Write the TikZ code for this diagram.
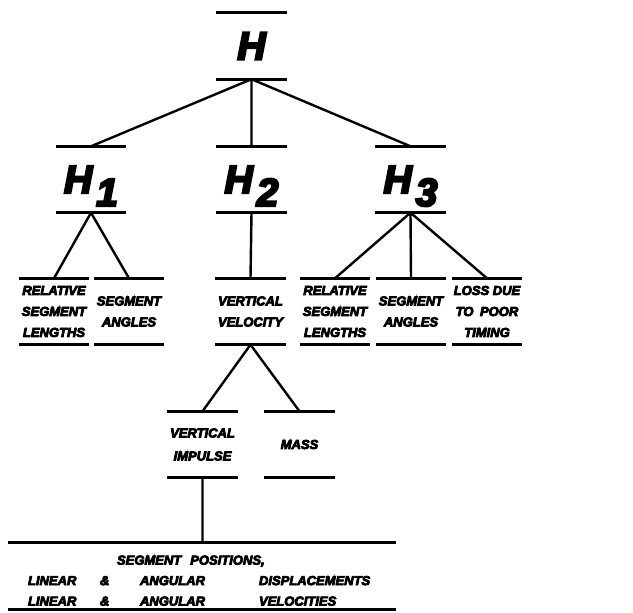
\documentclass[tikz,border=0pt]{standalone}
\usepackage{fontspec}
\newfontfamily\chartfont{Liberation Sans}[UprightFont=*/BI, FakeBold=6]
\usetikzlibrary{positioning}

\begin{document}
\begin{tikzpicture}[x=1pt,y=-1pt]
    \tikzset{level/.style= {rectangle
    , minimum width=70pt
    , minimum height=66pt
    , inner sep=0pt
    , align=center
    , font=\chartfont\fontsize{13}{21}\selectfont
    , append after command={(\tikzlastnode.north west) edge[draw, line width=3pt] (\tikzlastnode.north east)
        (\tikzlastnode.south west) edge[draw, line width=3pt] (\tikzlastnode.south east)}
      }
    , heading/.style={level
    , font=\chartfont\fontsize{39}{40}\selectfont
      }
    , link/.style={draw, line width=2.4pt}
    }
\useasboundingbox (0,0) rectangle (633,613);

\node [heading] (top) at (251.5,46) {H};
\node [heading] (h1) at (91,179.5) {H\hspace{4pt}\raisebox{-13pt}[0pt][0pt]{1}};
\node [heading] (h2) at (251.5,179.5) {H\hspace{4pt}\raisebox{-13pt}[0pt][0pt]{2}};
\node [heading] (h3) at (410.5,179.5) {H\hspace{4pt}\raisebox{-13pt}[0pt][0pt]{3}};

\node [level] (lengths1) at (54,311.5) {RELATIVE\\SEGMENT\\LENGTHS};
\node [level, right of=lengths1, node distance=75pt] (angles1) {SEGMENT\\ANGLES};
\node [level] (velocity) at (250.5,311.5) {VERTICAL\\VELOCITY};
\node [level] (lengths3) at (335,311.5) {RELATIVE\\SEGMENT\\LENGTHS};
\node [level, right of=lengths3, node distance=76pt] (angles3) {SEGMENT\\ANGLES};
\node [level, right of=angles3, node distance=76pt] (timing) {LOSS DUE\\TO\enspace POOR\\TIMING};

\node [level, font=\chartfont\fontsize{13}{23}\selectfont] (impulse) at (202.5,444.5) {VERTICAL\\IMPULSE};
\node [level, right of=impulse, node distance=97pt] (mass) {MASS};

\node [level, minimum width=388pt, font=\chartfont\fontsize{13}{20.5}\selectfont]
  (positions) at (202,576) {\raisebox{-5pt}[\height][\depth]{\begin{tabular}{@{}p{72pt}@{}p{40pt}@{}p{119pt}@{}p{117pt}@{}}
  \multicolumn{4}{@{}l@{}}{\hspace{89pt}SEGMENT\hspace{9pt}POSITIONS,}\\
  LINEAR & \& & ANGULAR & DISPLACEMENTS\\
  LINEAR & \& & ANGULAR & VELOCITIES
  \end{tabular}}};

 \path[link]
  (top.south) -- (h1.north)
  (top.south) -- (h2.north)
  (top.south) -- (h3.north)
  (h1.south) -- (lengths1.north)
  (h1.south) -- (angles1.north)
  (h2.south) -- (velocity.north)
  (h3.south) -- (lengths3.north)
  (h3.south) -- (angles3.north)
  (h3.south) -- (timing.north)
  (velocity.south) -- (impulse.north)
  (velocity.south) -- (mass.north)
  (impulse.south) -- (impulse.south |- positions.north);
\end{tikzpicture}
\end{document}
